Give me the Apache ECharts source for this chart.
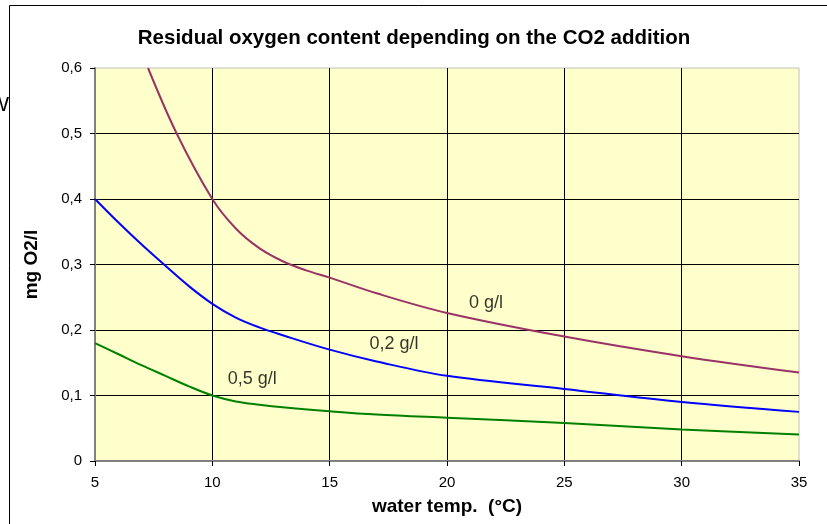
<!DOCTYPE html>
<html lang="en">

<head>
    <meta charset="utf-8">
    <script src="https://cdn.jsdelivr.net/npm/echarts@6/dist/echarts.min.js"></script>
    <style>
        html, body { margin: 0; padding: 0; background: #fff; }
    </style>
</head>

<body>
    <div id="main" style="width: 827px;height:524px;"></div>
    <script type="text/javascript">
    // values
    var xTicks = [5, 10, 15, 20, 25, 30, 35];
    var yTicks = [0, 0.1, 0.2, 0.3, 0.4, 0.5, 0.6];

    var temp0 = [7.26, 8.48, 10, 11, 12, 13, 14, 15, 17, 20, 25, 30, 35];
    var o2_0 = [0.6, 0.5, 0.4, 0.355, 0.325, 0.305, 0.291, 0.28, 0.256, 0.226, 0.19, 0.16, 0.135];

    var temp02 = [5, 6, 7, 8, 9, 10, 11, 12, 13, 15, 17, 20, 25, 30, 35];
    var o2_02 = [0.4, 0.364, 0.33, 0.298, 0.267, 0.24, 0.219, 0.204, 0.192, 0.17, 0.152, 0.13, 0.11, 0.09, 0.075];

    var temp05 = [5, 6, 7, 8, 9, 10, 11, 12, 13, 15, 17, 20, 25, 30, 35];
    var o2_05 = [0.18, 0.163, 0.146, 0.13, 0.114, 0.1, 0.091, 0.086, 0.082, 0.076, 0.071, 0.066, 0.058, 0.048, 0.0405];

    var curveNames = ['0 g/l', '0,2 g/l', '0,5 g/l'];
    var labelPos = [[21.66, 0.241], [17.74, 0.179], [11.7, 0.125]];

    function pairs(xs, ys) {
        return xs.map(function (x, i) { return [x, ys[i]]; });
    }

    var font = 'Arial, "Liberation Sans", sans-serif';
    var myChart = echarts.init(document.getElementById('main'));

    function curve(name, data, color) {
        return {
            name: name,
            type: 'line',
            data: data,
            smooth: 0.35,
            showSymbol: false,
            clip: true,
            lineStyle: { color: color, width: 2 },
            z: 3
        };
    }

    myChart.setOption({
        animation: false,
        title: {
            text: 'Residual oxygen content depending on the CO2 addition',
            left: 409,
            textAlign: 'center',
            top: 23,
            textStyle: { fontFamily: font, fontSize: 20.5, fontWeight: 'bold', color: '#000' }
        },
        grid: {
            left: 95,
            right: 28,
            top: 68,
            bottom: 63,
            show: true,
            backgroundColor: '#ffffcc',
            borderColor: '#c0c0c0',
            borderWidth: 1
        },
        xAxis: {
            type: 'value',
            min: xTicks[0],
            max: xTicks[xTicks.length - 1],
            interval: 5,
            name: 'water temp.  (°C)',
            nameLocation: 'middle',
            nameGap: 36,
            nameTextStyle: { fontFamily: font, fontSize: 19, fontWeight: 'bold', color: '#000' },
            axisLine: { lineStyle: { color: '#808080', width: 2 } },
            axisTick: { show: true, length: 5, lineStyle: { color: '#000' } },
            axisLabel: { fontFamily: font, fontSize: 15, color: '#000', margin: 14 },
            splitLine: { show: true, showMinLine: false, showMaxLine: false, lineStyle: { color: '#000', width: 1 } }
        },
        yAxis: {
            type: 'value',
            min: yTicks[0],
            max: yTicks[yTicks.length - 1],
            interval: 0.1,
            name: 'mg O2/l',
            nameLocation: 'middle',
            nameGap: 54,
            nameTextStyle: { fontFamily: font, fontSize: 19, fontWeight: 'bold', color: '#000' },
            axisLine: { show: true, lineStyle: { color: '#808080', width: 2 } },
            axisTick: { show: true, length: 5, lineStyle: { color: '#000' } },
            axisLabel: {
                fontFamily: font, fontSize: 15, color: '#000', margin: 13,
                formatter: function (v) { return v === 0 ? '0' : v.toFixed(1).replace('.', ','); }
            },
            splitLine: { show: true, showMinLine: false, showMaxLine: false, lineStyle: { color: '#000', width: 1 } }
        },
        graphic: [
            {
                type: 'rect',
                shape: { x: 9.5, y: 5.5, width: 900, height: 600 },
                style: { fill: 'none', stroke: '#000', lineWidth: 1 },
                silent: true
            },
            {
                type: 'text',
                x: 9,
                y: 105,
                style: {
                    text: 'W', fontFamily: font, fontSize: 21, fill: '#000',
                    align: 'right', verticalAlign: 'middle'
                }
            }
        ],
        series: [
            curve(curveNames[0], pairs(temp0, o2_0), '#993366'),
            curve(curveNames[1], pairs(temp02, o2_02), '#0000ff'),
            curve(curveNames[2], pairs(temp05, o2_05), '#008000'),
            {
                type: 'scatter',
                symbolSize: 0,
                silent: true,
                z: 4,
                data: labelPos.map(function (p, i) {
                    return { value: p, label: { formatter: curveNames[i] } };
                }),
                label: {
                    show: true,
                    position: 'inside',
                    fontFamily: font,
                    fontSize: 18,
                    color: '#000'
                }
            }
        ]
    });
    </script>
</body>

</html>
